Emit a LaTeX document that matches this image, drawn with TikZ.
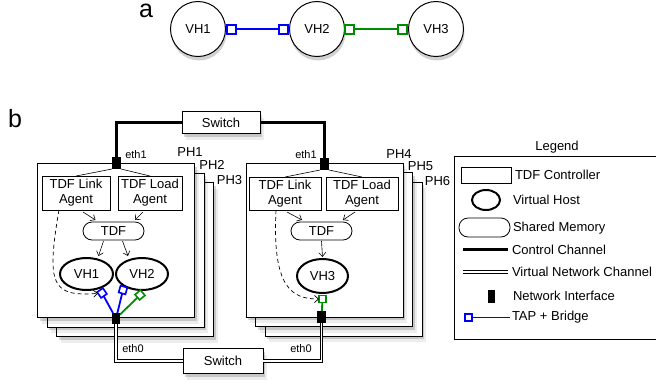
\documentclass[tikz,border=0pt]{standalone}
\usepackage{fontspec}
\setmainfont{Liberation Sans}
\usetikzlibrary{shadows,arrows.meta,calc,shapes.geometric}

\begin{document}
\begin{tikzpicture}[x=1pt,y=-1pt,
  every node/.style={inner sep=0pt,outer sep=0pt},
  txt/.style={font=\fontsize{13}{15}\selectfont},
  smalltxt/.style={font=\fontsize{11}{13}\selectfont},
  bigtxt/.style={font=\fontsize{25}{28}\selectfont},
  softshadow/.style={
    drop shadow={shadow xshift=2pt,shadow yshift=-3pt,opacity=.16,fill=black},
    drop shadow={shadow xshift=4pt,shadow yshift=-6pt,opacity=.07,fill=black}},
  hostbox/.style={draw,fill=white,line width=0.9pt,minimum width=157pt,minimum height=154pt,softshadow},
  switchbox/.style={draw,fill=white,line width=0.9pt,txt,softshadow},
  ctrlbox/.style={draw,fill=white,line width=0.8pt,txt,align=center},
  shmem/.style={draw,fill=white,line width=0.8pt,txt,rounded corners=9pt,minimum width=61pt,minimum height=18pt},
  vhost/.style={draw,fill=white,ellipse,line width=2pt,txt},
  vhosta/.style={draw,fill=white,circle,line width=1pt,minimum size=55pt,txt,
    drop shadow={shadow xshift=1pt,shadow yshift=-4pt,opacity=.18,fill=black}},
  nic/.style={fill=black,minimum width=9pt,minimum height=12pt},
  tapsq/.style={fill=white,line width=1.6pt,minimum size=7pt},
  tapsqa/.style={fill=white,line width=2pt,minimum size=9pt},
  tapblue/.style={draw=blue},
  tapgreen/.style={draw=green!55!black},
  tapline/.style={line width=1.8pt},
  ctrlline/.style={line width=3pt},
  vnetline/.style={line width=1pt,double=white,double distance=1.6pt},
  arr/.style={line width=0.6pt,-{Straight Barb[length=4pt,width=7pt]}},
  dasharr/.style={line width=0.7pt,dash pattern=on 4pt off 3pt,-{Straight Barb[length=4pt,width=7pt]}},
]
\useasboundingbox (0,0) rectangle (656,384);

% ---------------- part a ----------------
\node[bigtxt,anchor=base] (lbla) at (146,17.5) {a};
\node[vhosta] (avh1) at (198,29) {VH1};
\node[vhosta] (avh2) at (317,29) {VH2};
\node[vhosta] (avh3) at (436,29) {VH3};
\node[tapsqa,tapblue] (at1) at (231,29) {};
\node[tapsqa,tapblue] (at2) at (283,29) {};
\node[tapsqa,tapgreen] (at3) at (349,29) {};
\node[tapsqa,tapgreen] (at4) at (402,29) {};
\draw[blue,line width=2pt] (at1) -- (at2);
\draw[green!55!black,line width=2pt] (at3) -- (at4);

% ---------------- part b ----------------
\node[bigtxt,anchor=base] (lblb) at (15,127) {b};

% switches
\node[switchbox,minimum width=78pt,minimum height=22pt] (sw1) at (221,122.5) {Switch};
\node[switchbox,minimum width=80pt,minimum height=25pt] (sw2) at (223,361) {Switch};

% left physical hosts
\node[hostbox] (ph3) at (135,259.5) {};
\node[hostbox] (ph2) at (125.5,250) {};
\node[hostbox] (ph1) at (116,240.5) {};
\node[txt] (lph1) at (190,152) {PH1};
\node[txt] (lph2) at (212,164.5) {PH2};
\node[txt] (lph3) at (229.5,180) {PH3};

% right physical hosts
\node[hostbox] (ph6) at (343.5,259) {};
\node[hostbox] (ph5) at (334,249.5) {};
\node[hostbox] (ph4) at (324.5,240) {};
\node[txt] (lph4) at (399,154) {PH4};
\node[txt] (lph5) at (420.5,166) {PH5};
\node[txt] (lph6) at (437.5,181) {PH6};

% network interfaces
\node[nic] (eth1l) at (116.5,163) {};
\node[nic] (eth1r) at (324.5,164) {};
\node[nic,minimum width=8pt,minimum height=11pt] (eth0l) at (116,318.5) {};
\node[nic] (eth0r) at (321.5,317) {};
\node[smalltxt] (leth1l) at (136,155) {eth1};
\node[smalltxt] (leth1r) at (306,155) {eth1};
\node[smalltxt] (leth0l) at (133,349) {eth0};
\node[smalltxt] (leth0r) at (301,349) {eth0};

% controllers, left host
\node[ctrlbox,minimum width=68pt,minimum height=34pt] (link1) at (76,193) {TDF Link\\Agent};
\node[ctrlbox,minimum width=64pt,minimum height=34pt] (load1) at (150,193) {TDF Load\\Agent};
\node[shmem] (tdf1) at (113.5,231) {TDF};
\node[vhost,minimum width=53pt,minimum height=32pt] (vh1) at (86.5,274) {VH1};
\node[vhost,minimum width=52pt,minimum height=32pt] (vh2) at (142,274) {VH2};

% controllers, right host
\node[ctrlbox,minimum width=72pt,minimum height=33pt] (link2) at (285,193.5) {TDF Link\\Agent};
\node[ctrlbox,minimum width=72pt,minimum height=33pt] (load2) at (362,193.5) {TDF Load\\Agent};
\node[shmem] (tdf2) at (321.5,231) {TDF};
\node[vhost,minimum width=51pt,minimum height=34pt] (vh3) at (322.5,276) {VH3};

% TAP devices
\node[tapsq,tapblue,rotate=34] (tap1) at (102,293) {};
\node[tapsq,tapblue,rotate=-16] (tap2) at (123,290) {};
\node[tapsq,tapgreen,rotate=-50] (tap3) at (140,295) {};
\node[tapsq,tapgreen] (tap4) at (322.5,299) {};

% control channel
\draw[ctrlline] (sw1.west) -| (eth1l);
\draw[ctrlline] (sw1.east) -| (eth1r);

% virtual network channel
\draw[vnetline] (eth0l) |- (sw2.west);
\draw[vnetline] (eth0r) |- (sw2.east);

% interface to agents
\draw[line width=0.6pt] (eth1l.south west) -- (link1.north);
\draw[line width=0.6pt] (eth1l.south east) -- (load1.north);
\draw[line width=0.6pt] (eth1r.south west) -- (link2.north);
\draw[line width=0.6pt] (eth1r.south east) -- (load2.north);

% agents write to shared memory
\draw[arr] ($(link1.south)+(7,2)$) -- ($(tdf1.north)+(-18,-2)$);
\draw[arr] ($(load1.south)+(-7,2)$) -- ($(tdf1.north)+(21.5,-2)$);
\draw[arr] ($(tdf1.south)+(-10,1)$) -- ($(vh1.north)+(12,-2)$);
\draw[arr] ($(tdf1.south)+(9,1)$) -- ($(vh2.north)+(-14,-2)$);
\draw[arr] ($(link2.south)+(2,2)$) -- ($(tdf2.north)+(-19.5,-2)$);
\draw[arr] ($(load2.south)+(-7,2)$) -- ($(tdf2.north)+(21.5,-2)$);
\draw[arr] ($(tdf2.south)+(0,1)$) -- ($(vh3.north)+(0,-2)$);

% link agent configures the TAP
\draw[dasharr] ($(link1.south)+(-17,0)$) .. controls (46,285) and (52,297) .. (tap1);
\draw[dasharr] ($(link2.south)+(-9,0)$) .. controls (272,288) and (292,299) .. (tap4);

% TAP + bridge links
\draw[blue,tapline] (eth0l) -- (tap1);
\draw[blue,tapline] (eth0l) -- (tap2);
\draw[green!55!black,tapline] (eth0l) -- (tap3);
\draw[green!55!black,tapline] (eth0r) -- (tap4);

% ---------------- legend ----------------
\node[txt] (legtitle) at (557,147) {Legend};
\node[draw,line width=0.9pt,minimum width=208pt,minimum height=183pt] (legbox) at (558,247.5) {};
\node[draw,line width=0.8pt,minimum width=50pt,minimum height=16pt] (lrect) at (486,175) {};
\node[draw,ellipse,line width=2pt,minimum width=28pt,minimum height=20pt] (lell) at (486,200) {};
\node[draw,line width=0.8pt,rounded corners=9pt,minimum width=51pt,minimum height=19pt] (lmem) at (484.5,227.5) {};
\coordinate (lc1) at (463,249);
\coordinate (lc2) at (508,249);
\draw[ctrlline] (lc1) -- (lc2);
\coordinate (lv1) at (463,272);
\coordinate (lv2) at (508,272);
\draw[vnetline] (lv1) -- (lv2);
\node[fill=black,minimum width=7pt,minimum height=13pt] (lnic) at (491.5,296.5) {};
\node[tapsq,tapblue] (ltap) at (468.5,317.5) {};
\coordinate (lt2) at (510,317.5);
\draw[blue,tapline] (ltap) -- (lt2);
\node[txt,anchor=west] (ltx1) at (515,175) {TDF Controller};
\node[txt,anchor=west] (ltx2) at (513,200) {Virtual Host};
\node[txt,anchor=west] (ltx3) at (513,228) {Shared Memory};
\node[txt,anchor=west] (ltx4) at (512,250) {Control Channel};
\node[txt,anchor=west] (ltx5) at (512,272) {Virtual Network Channel};
\node[txt,anchor=west] (ltx6) at (513,296) {Network Interface};
\node[txt,anchor=west] (ltx7) at (512,317) {TAP + Bridge};
\end{tikzpicture}
\end{document}
